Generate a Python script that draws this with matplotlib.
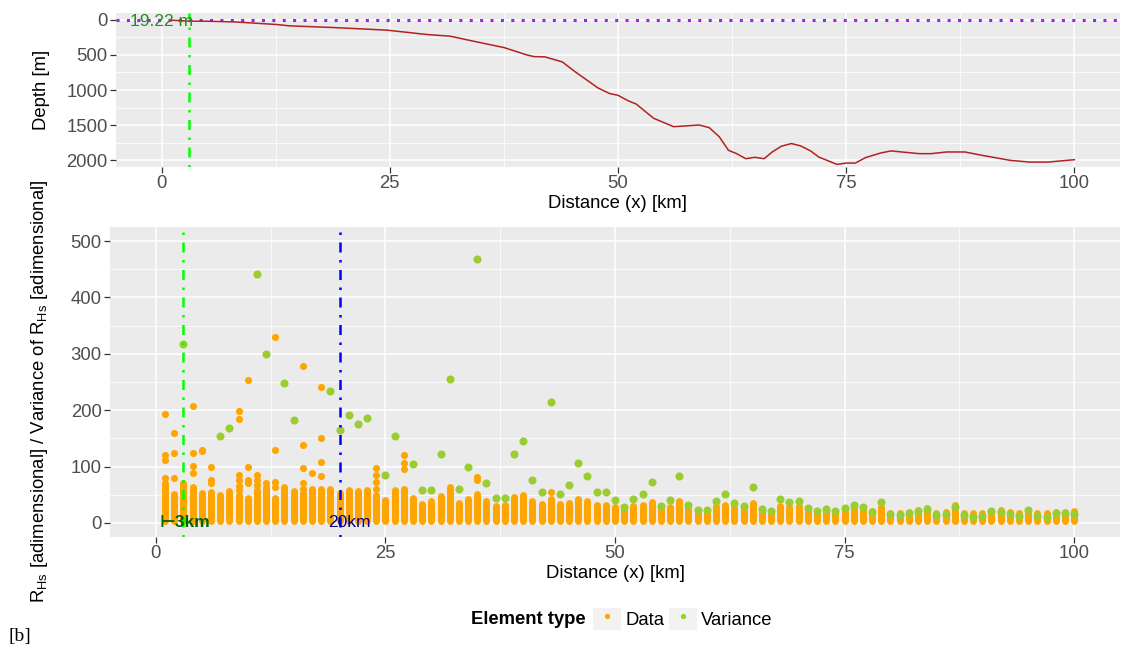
import numpy as np
import matplotlib.pyplot as plt
from matplotlib.lines import Line2D
from matplotlib.patches import Rectangle
from matplotlib.legend_handler import HandlerTuple

plt.rcParams['font.family'] = ['Liberation Sans', 'DejaVu Sans']

# bathymetric profile (top panel)
prof_km = [1, 3, 5, 8, 12.6, 14, 18.8, 22.5, 24.7, 26.1, 29.1, 31.6, 34.5, 37.5,
           40, 40.8, 42, 43.9, 45.2, 47.8, 49.1, 50, 51.1, 52, 53.9, 56.1, 58.9,
           60, 61.1, 62.1, 63, 64, 65, 66, 66.9, 67.9, 69, 70, 71.1, 72, 74, 75,
           76, 77.1, 78.8, 79.9, 83, 84.3, 86, 88, 89.9, 93, 95.1, 97.1, 100]
prof_depth = [5, 19.22, 20, 30, 67, 86, 110, 133, 148, 167, 210, 233, 314, 395,
              500, 524, 528, 600, 730, 970, 1051, 1075, 1152, 1200, 1402, 1522, 1498,
              1536, 1666, 1858, 1906, 1978, 1958, 1978, 1882, 1800, 1762, 1795, 1867,
              1954, 2059, 2040, 2040, 1963, 1896, 1867, 1906, 1906, 1882, 1882, 1930,
              2002, 2026, 2026, 1992]
coast_depth = 19.22
coast_km = 3
limit_km = 20

# R_Hs data: each km holds a dense stack of points from col_base to col_top
km = np.arange(1, 101)
col_base = 4
col_top = [71, 51, 70, 64, 53, 55, 50, 56, 50, 45,
           59, 64, 45, 64, 56, 53, 61, 60, 61, 53,
           59, 56, 59, 50, 40, 58, 60, 44, 34, 38,
           47, 64, 35, 42, 51, 38, 30, 31, 46, 50,
           38, 34, 42, 33, 36, 43, 38, 32, 32, 29,
           24, 30, 32, 37, 29, 29, 39, 26, 22, 22,
           30, 32, 28, 26, 35, 23, 20, 30, 29, 30,
           23, 18, 22, 18, 26, 30, 29, 22, 29, 18,
           17, 20, 23, 26, 18, 20, 32, 18, 17, 18,
           22, 23, 20, 18, 23, 18, 18, 20, 20, 22]

# isolated data points above the stacks
out_km = [1, 1, 1, 1, 2, 2, 2, 4, 4, 4, 4, 5, 5, 6, 6, 6,
          9, 9, 9, 9, 9, 9, 10, 10, 10, 10, 11, 11, 11, 12,
          13, 13, 13, 13, 16, 16, 16, 16, 16, 17, 18, 18, 18, 18,
          24, 24, 24, 24, 27, 27, 27, 35, 35, 43]
out_val = [194, 120, 111, 79, 159, 124, 79, 207, 124, 101, 88, 130, 127, 100, 77, 71,
           199, 184, 85, 76, 66, 59, 254, 99, 76, 71, 85, 77, 67, 70,
           330, 130, 72, 64, 278, 139, 98, 70, 61, 89, 241, 151, 108, 84,
           97, 85, 73, 61, 121, 106, 95, 82, 77, 54]

# variance of R_Hs per km (nan where hidden)
nan = np.nan
var_val = [nan, nan, 317, nan, nan, nan, 155, 168, nan, nan,
           441, 299, nan, 249, 182, nan, nan, nan, 234, 165,
           192, 176, 187, nan, 85, 155, nan, 104, 58, 58,
           123, 255, 61, 100, 469, 71, 44, 44, 123, 146,
           76, 55, 214, 51, 68, 106, 83, 54, 55, 41,
           29, 42, 51, 72, 30, 40, 84, 31, 23, 23,
           39, 51, 35, 30, 64, 24, 22, 42, 37, 38,
           27, 21, 24, 21, 26, 32, 28, 19, 37, 16,
           14, 17, 21, 24, 14, 16, 28, 14, 11, 12,
           21, 20, 16, 12, 23, 12, 11, 18, 17, 16]

c_data = '#FFA500'
c_var = '#9ACD32'
panel_bg = '#EBEBEB'
dotdash = (0, (1, 3, 4, 3))


def gg_style(ax):
    ax.set_facecolor(panel_bg)
    for s in ax.spines.values():
        s.set_visible(False)
    ax.grid(True, which='major', color='white', lw=1.1)
    ax.grid(True, which='minor', color='white', lw=0.55)
    ax.set_axisbelow(True)
    ax.tick_params(which='major', length=4, width=0.9, color='#333333',
                   labelcolor='#4D4D4D', labelsize=13.3, pad=2)
    ax.tick_params(which='minor', length=0)


fig = plt.figure(figsize=(11.21, 6.52), dpi=100)
W, H = 1121, 652

ax1 = fig.add_axes([116 / W, 1 - 167 / H, (1120 - 116) / W, (167 - 12.5) / H])
ax2 = fig.add_axes([110 / W, 1 - 537 / H, (1120 - 110) / W, (537 - 227) / H])

# top panel
gg_style(ax1)
ax1.axhline(0, color='#A020F0', lw=2.2, ls=(0, (1, 2.4)))
ax1.plot(prof_km, prof_depth, color='#B22222', lw=1.1)
ax1.axvline(coast_km, color='#00FF00', lw=1.8, ls=dotdash)
ax1.text(0, coast_depth, f'{coast_depth:.2f} m', color='#228B22', fontsize=12.5,
         ha='center', va='center')
ax1.set_xlim(-5, 105)
ax1.set_ylim(2096, -104)
ax1.set_xticks([0, 25, 50, 75, 100])
ax1.set_xticks([12.5, 37.5, 62.5, 87.5], minor=True)
ax1.set_yticks([0, 500, 1000, 1500, 2000])
ax1.set_yticks([250, 750, 1250, 1750], minor=True)
ax1.set_xlabel('Distance (x) [km]', fontsize=13.3, labelpad=2)
ax1.set_ylabel('Depth [m]', fontsize=13.3)
ax1.yaxis.set_label_coords(-0.066, 0.5)

# bottom panel
gg_style(ax2)
ax2.vlines(km, col_base, col_top, color=c_data, lw=5, capstyle='round')
ax2.scatter(out_km, out_val, s=26, color=c_data, linewidths=0)
ax2.scatter(km, var_val, s=34, color=c_var, linewidths=0, zorder=3)
ax2.axvline(coast_km, color='#00FF00', lw=1.8, ls=dotdash, zorder=4)
ax2.axvline(limit_km, color='#0000FF', lw=1.8, ls=dotdash, zorder=4)
ax2.text(3.2, 0, '\u22a23km', color='#006400', fontsize=12.5, fontweight='bold',
         ha='center', va='center', zorder=5)
ax2.text(21.1, 0, '20km', color='#00008B', fontsize=12.5,
         ha='center', va='center', zorder=5)
ax2.set_xlim(-5, 105)
ax2.set_ylim(-25, 525)
ax2.set_xticks([0, 25, 50, 75, 100])
ax2.set_xticks([12.5, 37.5, 62.5, 87.5], minor=True)
ax2.set_yticks([0, 100, 200, 300, 400, 500])
ax2.set_yticks([50, 150, 250, 350, 450], minor=True)
ax2.set_xlabel('Distance (x) [km]', fontsize=13.3, labelpad=2)
ax2.set_ylabel(r'$\mathregular{R_{Hs}}$ [adimensional] / Variance of '
               r'$\mathregular{R_{Hs}}$ [adimensional]', fontsize=13.3)
ax2.yaxis.set_label_coords(-0.0594, 0.47)

# legend
key_bg = Rectangle((0, 0), 1, 1, facecolor='#F2F2F2', edgecolor='none')
h_data = Line2D([], [], ls='', marker='o', ms=3.8, color=c_data, mec='none')
h_var = Line2D([], [], ls='', marker='o', ms=3.8, color=c_var, mec='none')
fig.legend([(key_bg, h_data), (key_bg, h_var)], ['Data', 'Variance'], ncol=2,
           loc='center', bbox_to_anchor=(683 / W, 1 - 619 / H), frameon=False,
           fontsize=13.3, handlelength=1.5, handleheight=1.5, handletextpad=0.25,
           columnspacing=0.25, borderpad=0,
           handler_map={tuple: HandlerTuple(ndivide=1, pad=0)})
fig.text(586 / W, 1 - 619 / H, 'Element type', fontsize=13.3, fontweight='bold',
         ha='right', va='center')

fig.text(8 / W, 1 - 637 / H, '[b]', family='Liberation Serif', fontsize=14,
         ha='left', va='center')

fig.savefig('out.png', dpi=100)
